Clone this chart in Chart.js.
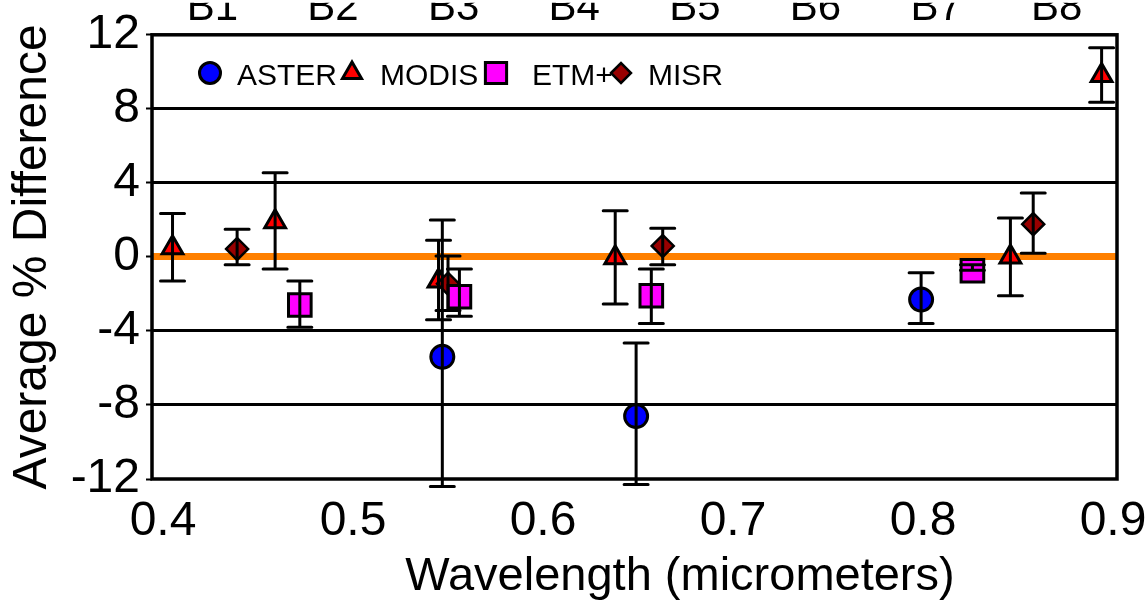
<!DOCTYPE html>
<html lang="en">
<head>
  <meta charset="UTF-8">
  <title>Average % Difference vs Wavelength</title>
  <script src="https://cdn.jsdelivr.net/npm/chart.js"></script>
  <style>
    body { margin: 0; background: #fff; }
    .chart-box { width: 1145px; height: 607px; }
  </style>
</head>
<body>
  <div class="chart-box"><canvas id="diffChart"></canvas></div>

  <script>
    // Axis labels
    const bandLabels = ['B1', 'B2', 'B3', 'B4', 'B5', 'B6', 'B7', 'B8'];
    const xTicks = [0.4, 0.5, 0.6, 0.7, 0.8, 0.9];
    const xTitle = 'Wavelength (micrometers)';

    // ASTER
    const asterX = [0.547, 0.649, 0.799];
    const asterY = [-5.4, -8.6, -2.3];
    const asterLow = [-12.4, -12.3, -3.6];
    const asterHigh = [2.0, -4.65, -0.85];

    // MODIS
    const modisX = [0.405, 0.459, 0.545, 0.638, 0.846, 0.894];
    const modisY = [0.5, 1.9, -1.3, -0.05, 0, 9.8];
    const modisLow = [-1.3, -0.65, -3.4, -2.55, -2.1, 8.35];
    const modisHigh = [2.35, 4.55, 0.9, 2.5, 2.1, 11.3];

    // ETM+
    const etmX = [0.472, 0.556, 0.657, 0.826];
    const etmY = [-2.6, -2.15, -2.1, -0.75];
    const etmLow = [-3.8, -3.2, -3.6, -0.72];
    const etmHigh = [-1.3, -0.65, -0.65, -0.42];

    // MISR
    const misrX = [0.439, 0.550, 0.663, 0.858];
    const misrY = [0.43, -1.45, 0.59, 1.77];
    const misrLow = [-0.43, -2.9, -0.43, 0.2];
    const misrHigh = [1.5, 0.05, 1.55, 3.45];

    const toPoints = (xs, ys) => xs.map((x, i) => ({ x: x, y: ys[i] }));

    Chart.defaults.font.family = '"Liberation Sans", Arial, sans-serif';
    Chart.defaults.color = '#000';

    // black frame round the plot area
    const plotFrame = {
      id: 'plotFrame',
      beforeDatasetsDraw(chart) {
        const { ctx, chartArea: a } = chart;
        ctx.save();
        ctx.strokeStyle = '#000';
        ctx.lineWidth = 3.5;
        ctx.strokeRect(a.left, a.top, a.right - a.left, a.bottom - a.top);
        ctx.restore();
      }
    };

    // vertical error bars with caps, drawn over the markers
    const errorBars = {
      id: 'errorBars',
      afterDatasetsDraw(chart) {
        const { ctx, scales: { x, y } } = chart;
        ctx.save();
        ctx.strokeStyle = '#000';
        ctx.lineWidth = 3;
        ctx.lineCap = 'round';
        chart.data.datasets.forEach(ds => {
          ds.data.forEach((p, i) => {
            const px = x.getPixelForValue(p.x);
            const top = y.getPixelForValue(ds.errHigh[i]);
            const bot = y.getPixelForValue(ds.errLow[i]);
            const cap = ds.capHalf;
            ctx.beginPath();
            ctx.moveTo(px, top); ctx.lineTo(px, bot);
            ctx.moveTo(px - cap, top); ctx.lineTo(px + cap, top);
            ctx.moveTo(px - cap, bot); ctx.lineTo(px + cap, bot);
            ctx.stroke();
          });
        });
        ctx.restore();
      }
    };

    // legend inside the plot, one row; x-axis title sits right of centre
    const insideLegend = {
      id: 'insideLegend',
      afterDraw(chart) {
        const ctx = chart.ctx;
        const markX = [210, 352, 496, 621];
        const textX = [237, 380, 532, 648];
        ctx.save();
        ctx.font = '30px "Liberation Sans", Arial, sans-serif';
        ctx.textBaseline = 'alphabetic';
        chart.data.datasets.forEach((ds, k) => {
          ctx.fillStyle = ds.backgroundColor;
          ctx.strokeStyle = ds.borderColor;
          ctx.lineWidth = ds.borderWidth;
          Chart.helpers.drawPoint(ctx, {
            pointStyle: ds.pointStyle,
            radius: ds.pointRadius - 1,
            rotation: 0,
            borderWidth: ds.borderWidth
          }, markX[k], 73);
          ctx.fillStyle = '#000';
          ctx.fillText(ds.label, textX[k], 85);
        });

        ctx.font = '47px "Liberation Sans", Arial, sans-serif';
        ctx.textAlign = 'center';
        ctx.fillText(xTitle, 680, 590);
        ctx.restore();
      }
    };

    new Chart(document.getElementById('diffChart'), {
      type: 'scatter',
      data: {
        datasets: [
          {
            label: 'ASTER', data: toPoints(asterX, asterY),
            errLow: asterLow, errHigh: asterHigh, capHalf: 12,
            pointStyle: 'circle', pointRadius: 11.5,
            backgroundColor: '#0000ff', borderColor: '#000', borderWidth: 3,
            order: 3
          },
          {
            label: 'MODIS', data: toPoints(modisX, modisY),
            errLow: modisLow, errHigh: modisHigh, capHalf: 12,
            pointStyle: 'triangle', pointRadius: 12,
            backgroundColor: '#ff0000', borderColor: '#000', borderWidth: 3,
            order: 2
          },
          {
            label: 'ETM+', data: toPoints(etmX, etmY),
            errLow: etmLow, errHigh: etmHigh, capHalf: 12,
            pointStyle: 'rect', pointRadius: 16,
            backgroundColor: '#ff00ff', borderColor: '#000', borderWidth: 3,
            order: 0
          },
          {
            label: 'MISR', data: toPoints(misrX, misrY),
            errLow: misrLow, errHigh: misrHigh, capHalf: 12,
            pointStyle: 'rectRot', pointRadius: 11,
            backgroundColor: '#990000', borderColor: '#000', borderWidth: 2.5,
            order: 1
          }
        ]
      },
      options: {
        responsive: true,
        maintainAspectRatio: false,
        animation: false,
        layout: { padding: { left: 0, right: 28, top: 0, bottom: 0 } },
        plugins: {
          legend: { display: false },
          tooltip: { enabled: false }
        },
        scales: {
          x: {
            type: 'linear',
            position: 'bottom',
            min: 0.3942,
            max: 0.9021,
            afterBuildTicks: s => { s.ticks = xTicks.map(v => ({ value: v })); },
            afterFit: s => { s.height = 128; s.paddingLeft = 0; s.paddingRight = 0; },
            grid: { display: false },
            border: { display: false },
            ticks: {
              font: { size: 48 },
              padding: 6,
              maxRotation: 0,
              autoSkip: false,
              callback: v => v.toFixed(1)
            }
          },
          xTop: {
            type: 'category',
            position: 'top',
            labels: bandLabels,
            offset: true,
            afterFit: s => { s.height = 32; s.paddingLeft = 0; s.paddingRight = 0; },
            grid: { display: false },
            border: { display: false },
            ticks: { font: { size: 42 }, padding: -7, maxRotation: 0, autoSkip: false }
          },
          y: {
            min: -12,
            max: 12,
            afterFit: s => { s.width = 152; },
            border: { display: false },
            grid: {
              color: c => c.tick.value === 0 ? '#ff8000'
                : (Math.abs(c.tick.value) === 12 ? 'rgba(0,0,0,0)' : '#000'),
              lineWidth: c => c.tick.value === 0 ? 7 : 3,
              tickColor: '#000',
              tickWidth: 2,
              tickLength: 6
            },
            ticks: { stepSize: 4, font: { size: 48 }, padding: 6 },
            title: {
              display: true,
              text: 'Average % Difference',
              font: { size: 48 },
              padding: { top: 4, bottom: 0 }
            }
          }
        }
      },
      plugins: [plotFrame, errorBars, insideLegend]
    });
  </script>
</body>
</html>
